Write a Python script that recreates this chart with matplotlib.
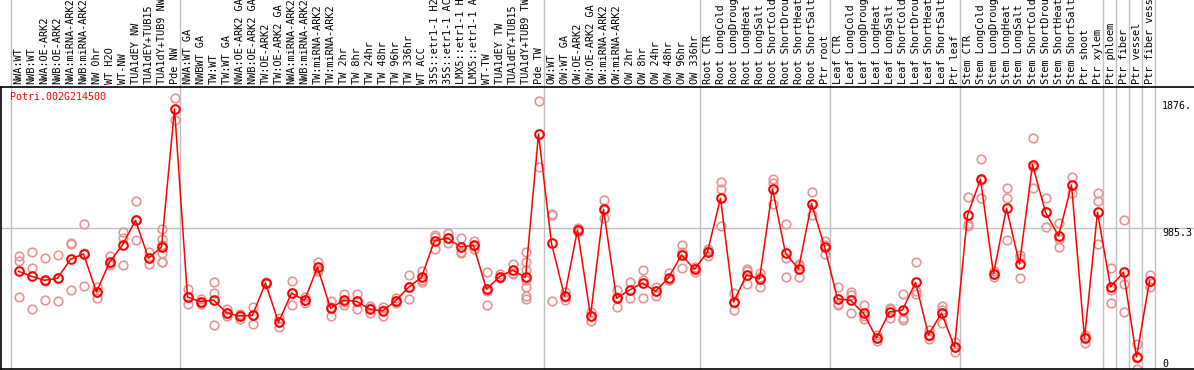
import matplotlib
matplotlib.use('Agg')
import matplotlib.pyplot as plt
import matplotlib.transforms as mtransforms

# gene expression profile, one column per sample
gene = 'Potri.002G214500'

samples = ['NWA:WT', 'NWB:WT', 'NWA:OE-ARK2', 'NWB:OE-ARK2', 'NWA:miRNA-ARK2', 'NWB:miRNA-ARK2',
           'NW 0hr', 'WT H2O', 'WT-NW', 'TUA1dEY NW', 'TUA1dEY+TUB15', 'TUA1dY+TUB9 NW', 'Pde NW',
           'NWA:WT GA', 'NWBWT GA', 'TW:WT', 'TW:WT GA', 'NWA:OE-ARK2 GA', 'NWB:OE-ARK2 GA',
           'TW:OE-ARK2', 'TW:OE-ARK2 GA', 'NWA:miRNA-ARK2', 'NWB:miRNA-ARK2', 'TW:miRNA-ARK2',
           'TW:miRNA-ARK2', 'TW 2hr', 'TW 8hr', 'TW 24hr', 'TW 48hr', 'TW 96hr', 'TW 336hr', 'WT ACC',
           '35S::etr1-1 H2O', '35S::etr1-1 ACC', 'LMX5::etr1-1 H2O', 'LMX5::etr1-1 ACC', 'WT-TW',
           'TUA1dEY TW', 'TUA1dEY+TUB15', 'TUA1dY+TUB9 TW', 'Pde TW',
           'OW:WT', 'OW:WT GA', 'OW:OE-ARK2', 'OW:OE-ARK2 GA', 'OW:miRNA-ARK2', 'OW:miRNA-ARK2',
           'OW 2hr', 'OW 8hr', 'OW 24hr', 'OW 48hr', 'OW 96hr', 'OW 336hr',
           'Root CTR', 'Root LongCold', 'Root LongDrought', 'Root LongHeat', 'Root LongSalt',
           'Root ShortCold', 'Root ShortDrought', 'Root ShortHeat', 'Root ShortSalt', 'Ptr root',
           'Leaf CTR', 'Leaf LongCold', 'Leaf LongDrought', 'Leaf LongHeat', 'Leaf LongSalt',
           'Leaf ShortCold', 'Leaf ShortDrought', 'Leaf ShortHeat', 'Leaf ShortSalt', 'Ptr leaf',
           'Stem CTR', 'Stem LongCold', 'Stem LongDrought', 'Stem LongHeat', 'Stem LongSalt',
           'Stem ShortCold', 'Stem ShortDrought', 'Stem ShortHeat', 'Stem ShortSalt', 'Ptr shoot',
           'Ptr xylem', 'Ptr phloem', 'Ptr fiber', 'Ptr vessel', 'Ptr fiber vessel']

means = [683, 648, 620, 634, 767, 804, 538, 746, 867, 1039, 774, 853, 1817,
         503, 470, 482, 393, 370, 375, 601, 326, 531, 480, 711, 424, 480, 473, 419, 407, 475,
         571, 641, 897, 915, 853, 864, 557, 645, 690, 641, 1642,
         878, 508, 971, 370, 1116, 494, 552, 601, 543, 638, 797, 697,
         818, 1193, 468, 657, 629, 1258, 809, 699, 1155, 855,
         491, 480, 389, 217, 400, 412, 606, 238, 391, 154,
         1074, 1326, 664, 1123, 734, 1428, 1095, 929, 1286, 215, 1095,
         575, 676, 84, 615]

reps = [[790, 757, 501], [816, 704, 419], [774, 617, 482], [795, 634, 475], [878, 874, 550],
        [1011, 809, 578], [573, 540, 494], [790, 739, 725], [955, 918, 727], [1174, 1041, 899],
        [816, 774, 736], [976, 908, 864, 809, 750, 746], [1892, 1740],
        [559, 452, 500], [487, 456, 468], [608, 531, 305], [421, 370, 390], [384, 352, 375],
        [433, 315, 378], [606, 601, 596], [356, 296, 327], [615, 449, 530], [501, 459, 480],
        [748, 685, 700], [473, 368, 430], [526, 447, 468], [524, 421, 475], [442, 389, 425],
        [435, 373, 414], [494, 459, 472], [657, 487, 570], [687, 622, 606],
        [934, 922, 839], [953, 881, 912], [915, 818, 809], [897, 837, 860], [678, 445, 548],
        [662, 634, 640], [734, 662, 673], [816, 746, 692, 622, 575, 510, 489], [1871, 1410],
        [1085, 1075, 475], [536, 482, 506], [985, 960, 970], [400, 338, 372], [1181, 1053, 1114],
        [550, 431, 500], [608, 494, 555], [690, 622, 494], [575, 510, 545], [673, 622, 620],
        [867, 704, 820], [715, 678, 697],
        [837, 792, 825], [1305, 1260, 999], [529, 412, 463], [697, 592, 683], [673, 571, 643],
        [1326, 1298, 1151], [1011, 774, 641], [734, 641, 722], [1235, 1076, 1155], [897, 802, 865],
        [573, 454, 447], [536, 389, 515], [447, 352, 368], [198, 216, 237], [419, 356, 426],
        [524, 359, 342], [746, 545, 524], [273, 208, 232], [438, 324, 412], [187, 121, 154],
        [1200, 1011, 997], [1465, 1193, 1320], [645, 664, 683], [1263, 1193, 899],
        [797, 774, 634], [1612, 1263, 1410], [1193, 994, 1098], [1022, 908, 855],
        [1340, 1232, 1286], [226, 180, 238], [1228, 1176, 874],
        [704, 552, 459], [1041, 592, 396], [175, 0, 77], [657, 573, 615]]

# first sample of each block (gray separators)
group_starts = [0, 13, 41, 53, 63, 73, 84, 85, 86, 87]

ytick_vals = [1876, 985.3, 0]
ytick_text = ['1876.', '985.3', '0']

mono = 'DejaVu Sans Mono'
red = '#ff0000'
pink = '#e99494'
gray = '#c0c0c0'

W, H = 1194, 370
fig = plt.figure(figsize=(W / 100, H / 100), dpi=100)
top_px = 87
bot_px = 369
ax = fig.add_axes([1 / W, (H - bot_px) / H, (W - 1) / W, (bot_px - top_px) / H])

px_per_unit = (bot_px - 228) / 985.3
ax.set_xlim((1 - 18.5) / 13, (W - 18.5) / 13)
ax.set_ylim(0, (bot_px - top_px) / px_per_unit)

# separators run up through the label area too
ext = bot_px / (bot_px - top_px)
seps = [s - 0.55 for s in group_starts] + [len(samples) - 0.55]
for s in seps:
    ax.axvline(s, ymin=0, ymax=ext, color=gray, lw=1, clip_on=False, zorder=1)
ax.axhline(985.3, color=gray, lw=1, zorder=1)

x = list(range(len(samples)))
for i, r in enumerate(reps):
    ax.plot([i] * len(r), r, 'o', ms=6.2, mfc='none', mec=pink, mew=1.2, zorder=2)

ax.plot(x, means, '-', color=red, lw=1.1, zorder=3)
ax.plot(x, means, 'o', ms=6.2, mfc='none', mec=red, mew=1.5, zorder=4)

# column labels above the plot (long ones run off the top, as in the original)
trans = mtransforms.blended_transform_factory(ax.transData, ax.transAxes)
lab_y = 1 + 3 / (bot_px - top_px)
for i, s in enumerate(samples):
    ax.text(i, lab_y, s, rotation=90, ha='center', va='bottom', transform=trans,
            family=mono, fontsize=7.4, color='black', clip_on=False)

ax.text(9 / W, 1 - 10 / (bot_px - top_px), gene, transform=ax.transAxes,
        family=mono, fontsize=7.2, color=red, ha='left', va='center')

# value labels on the right
ttrans = mtransforms.blended_transform_factory(ax.transAxes, ax.transData)
for v, t in zip(ytick_vals, ytick_text):
    ax.text(1162 / W, v, t, transform=ttrans, family=mono, fontsize=7.2,
            ha='left', va='bottom' if v == 0 else 'top', color='black')

ax.set_xticks([])
ax.set_yticks([])
ax.spines['right'].set_visible(False)
for k in ['left', 'top', 'bottom']:
    ax.spines[k].set_color('black')
    ax.spines[k].set_linewidth(1.2)

plt.savefig('out.png', dpi=100)
